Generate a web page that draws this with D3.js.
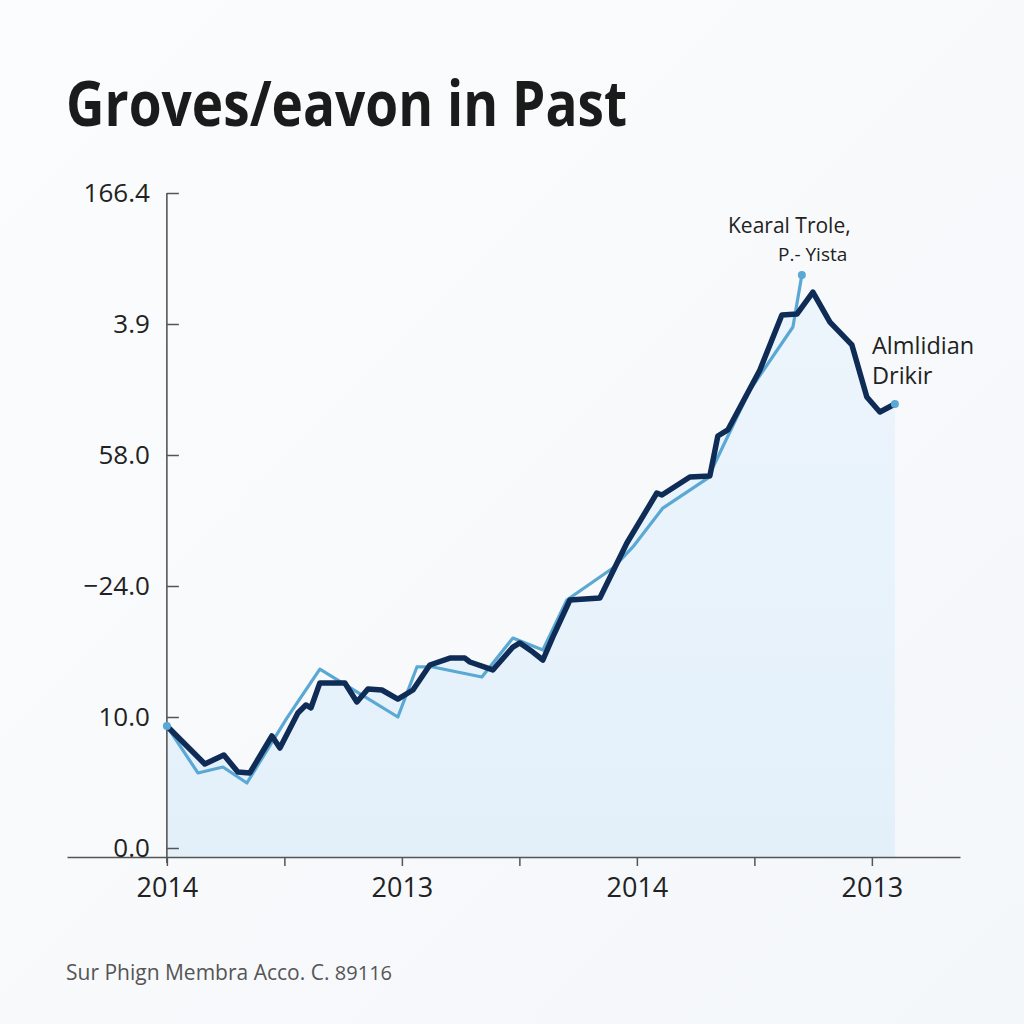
<!DOCTYPE html>
<html>
<head>
<meta charset="utf-8">
<script src="https://cdn.jsdelivr.net/npm/d3@7"></script>
<style>
  html, body { margin: 0; padding: 0; background: #f8fafb; }
  svg { display: block; }
</style>
</head>
<body>
<svg id="chart" width="1024" height="1024"></svg>
<script>
// ---- data ----
const titleText = "Groves/eavon in Past";
const footerText = "Sur Phign Membra Acco. C. ";
const footerNum = "89116";
const yTickLabels = ["0.0", "10.0", "\u221224.0", "58.0", "3.9", "166.4"];
const xTickLabels = ["2014", "", "2013", "", "2014", "", "2013"];
const annotationA = ["Kearal Trole,", "P.- Yista"];
const annotationB = ["Almlidian", "Drikir"];

// x in axis-tick units, y in axis-level units
const darkX = [0.000,0.323,0.485,0.604,0.706,0.894,0.962,1.115,1.183,1.226,1.302,1.515,1.617,1.711,1.830,1.966,2.094,2.238,2.409,2.536,2.579,2.774,2.945,3.004,3.115,3.200,3.285,3.430,3.685,3.915,4.170,4.213,4.451,4.621,4.689,4.774,5.047,5.234,5.362,5.498,5.643,5.830,5.957,6.068,6.196];
const darkY = [0.931,0.641,0.710,0.580,0.573,0.855,0.763,1.031,1.092,1.069,1.260,1.260,1.115,1.214,1.206,1.137,1.206,1.397,1.450,1.450,1.420,1.359,1.534,1.565,1.496,1.435,1.611,1.893,1.908,2.328,2.710,2.695,2.832,2.840,3.145,3.191,3.649,4.069,4.076,4.244,4.015,3.840,3.443,3.328,3.389];
const lightX = [0.000,0.264,0.477,0.681,1.021,1.302,1.617,1.966,2.128,2.264,2.681,2.945,3.200,3.404,3.796,3.966,4.221,4.604,4.962,5.328,5.404];
const lightY = [0.931,0.573,0.618,0.496,0.992,1.366,1.191,1.000,1.382,1.382,1.305,1.603,1.511,1.893,2.137,2.298,2.595,2.824,3.496,3.977,4.374];

const dark = darkX.map((x, i) => ({x, y: darkY[i]}));
const light = lightX.map((x, i) => ({x, y: lightY[i]}));

// ---- layout ----
const svg = d3.select("#chart");
const x = d3.scaleLinear().domain([-0.85, 6.75]).range([67, 960]);
const y = d3.scaleLinear().domain([0, 5]).range([848, 193]);
const axisY = y(0) + 9;

const defs = svg.append("defs");
const bg = defs.append("linearGradient").attr("id", "bg").attr("x1", 0).attr("y1", 0).attr("x2", 1).attr("y2", 1);
bg.append("stop").attr("offset", "0%").attr("stop-color", "#fbfcfd");
bg.append("stop").attr("offset", "100%").attr("stop-color", "#f4f7fa");
const fillG = defs.append("linearGradient").attr("id", "fillG").attr("x1", 0).attr("y1", 0).attr("x2", 0).attr("y2", 1);
fillG.append("stop").attr("offset", "0%").attr("stop-color", "#edf5fc");
fillG.append("stop").attr("offset", "100%").attr("stop-color", "#e3f0fa");

svg.append("rect").attr("width", 1024).attr("height", 1024).attr("fill", "url(#bg)");

// title
svg.append("text")
  .attr("x", 66).attr("y", 126)
  .attr("font-family", "'Liberation Sans Narrow', 'Open Sans', sans-serif")
  .attr("font-weight", 700)
  .attr("font-size", 63)
  .attr("fill", "#1b1b1b")
  .attr("textLength", 561)
  .attr("lengthAdjust", "spacingAndGlyphs")
  .text(titleText);

// area fill under the dark series
const area = d3.area().x(d => x(d.x)).y0(axisY).y1(d => y(d.y));
svg.append("path").datum(dark).attr("d", area).attr("fill", "url(#fillG)");

// axes
const gx = svg.append("g").attr("transform", `translate(0,${axisY})`)
  .call(d3.axisBottom(x).tickValues(d3.range(0, 7)).tickSizeInner(9).tickSizeOuter(0).tickPadding(12)
    .tickFormat((d, i) => xTickLabels[i]));
gx.select(".domain").attr("stroke", "#555").attr("stroke-width", 1.6);
gx.selectAll(".tick line").attr("stroke", "#555").attr("stroke-width", 1.5);
gx.selectAll(".tick text").attr("font-family", "'Open Sans', sans-serif").attr("font-size", 27).attr("fill", "#222");

const gy = svg.append("g").attr("transform", `translate(${x(0)},0)`)
  .call(d3.axisLeft(y).tickValues(d3.range(0, 6)).tickSizeInner(-12).tickSizeOuter(0).tickPadding(17)
    .tickFormat((d, i) => yTickLabels[i]));
gy.select(".domain").remove();
gy.append("line").attr("x1", 0).attr("x2", 0).attr("y1", y(5)).attr("y2", axisY + 6)
  .attr("stroke", "#555").attr("stroke-width", 1.6);
gy.selectAll(".tick line").attr("stroke", "#555").attr("stroke-width", 1.5);
gy.selectAll(".tick text").attr("font-family", "'Open Sans', sans-serif").attr("font-size", 26).attr("fill", "#222");

// lines
const line = d3.line().x(d => x(d.x)).y(d => y(d.y));
svg.append("path").datum(light).attr("d", line)
  .attr("fill", "none").attr("stroke", "#5aa8d3").attr("stroke-width", 3.2)
  .attr("stroke-linejoin", "round").attr("stroke-linecap", "round");
svg.append("path").datum(dark).attr("d", line)
  .attr("fill", "none").attr("stroke", "#0f2c57").attr("stroke-width", 5.5)
  .attr("stroke-linejoin", "round").attr("stroke-linecap", "round");

// markers
const markers = [light[0], light[light.length - 1], dark[dark.length - 1]];
svg.selectAll("circle.m").data(markers).enter().append("circle")
  .attr("cx", d => x(d.x)).attr("cy", d => y(d.y)).attr("r", 4)
  .attr("fill", "#5aa8d3");

// annotations
const annA = svg.append("text").attr("font-family", "'Open Sans', sans-serif").attr("font-size", 21).attr("fill", "#222");
annA.append("tspan").attr("x", 728).attr("y", 233).text(annotationA[0]);
annA.append("tspan").attr("x", 778).attr("y", 261).attr("font-size", 19).text(annotationA[1]);
const annB = svg.append("text").attr("font-family", "'Open Sans', sans-serif").attr("font-size", 23.5).attr("fill", "#222");
annB.append("tspan").attr("x", 872).attr("y", 354).text(annotationB[0]);
annB.append("tspan").attr("x", 872).attr("y", 384).text(annotationB[1]);

// footer
const foot = svg.append("text").attr("x", 66).attr("y", 980)
  .attr("font-family", "'Open Sans', sans-serif").attr("font-size", 21).attr("fill", "#555");
foot.append("tspan").text(footerText);
foot.append("tspan").attr("font-size", 20).text(footerNum);
</script>
</body>
</html>
